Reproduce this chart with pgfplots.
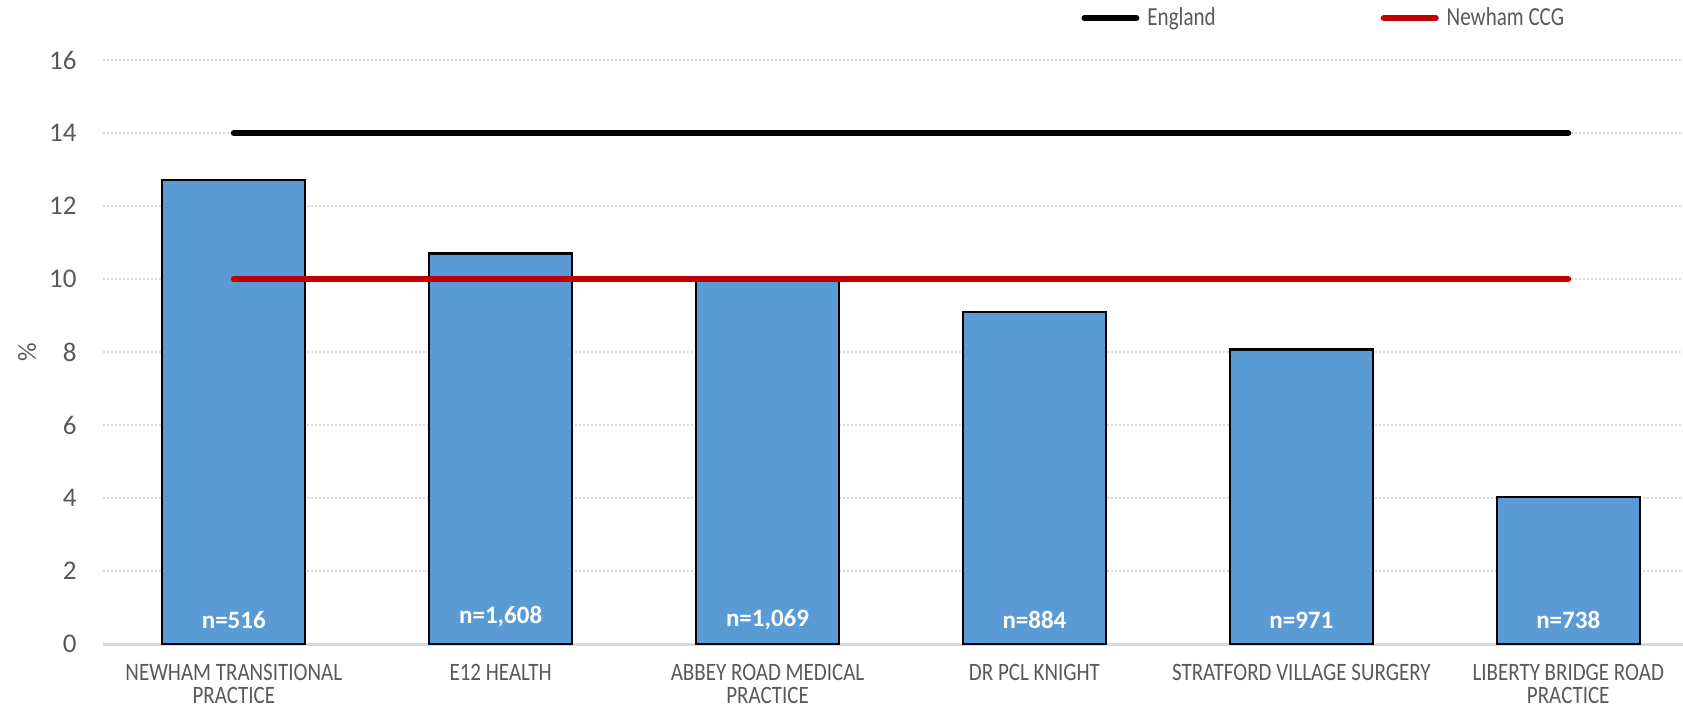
\documentclass[border=0pt]{standalone}
\usepackage{fontspec}
\setmainfont{Carlito}
\usepackage{graphicx}
\usepackage{pgfplots}
\pgfplotsset{compat=1.18}
\definecolor{barblue}{HTML}{5B9BD5}
\definecolor{ccgred}{HTML}{C00000}
\definecolor{txtgray}{HTML}{595959}
\definecolor{gridgray}{HTML}{D9D9D9}

\pgfplotstableread[row sep=\\]{
x y label\\
0 0.66 n=516\\
1 0.74 n=1,608\\
2 0.66 n=1,069\\
3 0.66 n=884\\
4 0.66 n=971\\
5 0.66 n=738\\
}\nlabels

\newcommand{\catlab}[1]{\scalebox{0.84}[1]{#1}}
\newcommand{\leglab}[1]{\scalebox{0.81}[1]{#1}}

\begin{document}
\begin{tikzpicture}
\useasboundingbox (0,0) rectangle (841.5pt,354pt);
\begin{axis}[
  at={(51.5pt,32pt)}, anchor=south west,
  scale only axis, width=790pt, height=292pt,
  xmin=-0.49, xmax=5.43, ymin=0, ymax=16,
  axis x line*=bottom, axis y line*=left,
  x axis line style={gridgray, line width=1.5pt, -},
  y axis line style={draw=none},
  xtick={0,...,5},
  xticklabels={
    {\catlab{NEWHAM TRANSITIONAL}\\\catlab{PRACTICE}},
    {\catlab{E12 HEALTH}},
    {\catlab{ABBEY ROAD MEDICAL}\\\catlab{PRACTICE}},
    {\catlab{DR PCL KNIGHT}},
    {\catlab{STRATFORD VILLAGE SURGERY}},
    {\catlab{LIBERTY BRIDGE ROAD}\\\catlab{PRACTICE}}},
  ytick={0,2,...,16},
  xtick style={draw=none}, ytick style={draw=none},
  major tick length=0pt,
  ymajorgrids,
  grid style={gridgray, line width=1pt, dash pattern=on 1pt off 1pt},
  /pgf/number format/assume math mode=true,
  yticklabel style={font=\fontsize{13.5}{13.5}\selectfont, text=txtgray, anchor=east, inner sep=0pt, xshift=-13pt},
  xticklabel style={font=\fontsize{12.5}{11.3}\selectfont, text=txtgray, align=center, anchor=north, inner sep=0pt, yshift=-10pt},
  ylabel={\%},
  ylabel style={at={(axis description cs:-0.048,0.5)}, anchor=center, font=\fontsize{13}{13}\selectfont, text=txtgray},
  legend columns=2,
  legend image code/.code={\draw[#1] (0pt,0pt) -- (26pt,0pt);},
  legend style={draw=none, fill=none, at={(axis description cs:0.619,1)}, anchor=west, yshift=21pt,
    font=\fontsize{13}{13}\selectfont, text=txtgray, inner sep=0pt, nodes={inner sep=0pt},
    /tikz/every odd column/.append style={column sep=4pt},
    /tikz/every even column/.append style={column sep=82.5pt}},
]
\addplot[ybar, bar width=71.5pt, fill=barblue, draw=black, line width=1.2pt, forget plot]
  coordinates {(0,12.72) (1,10.70) (2,9.97) (3,9.10) (4,8.07) (5,4.03)};
\addplot[black, line width=3pt, line cap=round] coordinates {(0,14) (5,14)};
\addlegendentry{\leglab{England}}
\addplot[ccgred, line width=3pt, line cap=round] coordinates {(0,10) (5,10)};
\addlegendentry{\leglab{Newham CCG}}
\addplot[draw=none, mark=none, forget plot, nodes near coords, point meta=explicit symbolic,
  nodes near coords align={center},
  every node near coord/.append style={font=\bfseries\fontsize{12.5}{12.5}\selectfont, text=white, anchor=center, inner sep=0pt}]
  table[x=x, y=y, meta=label] {\nlabels};
\end{axis}
\end{tikzpicture}
\end{document}
